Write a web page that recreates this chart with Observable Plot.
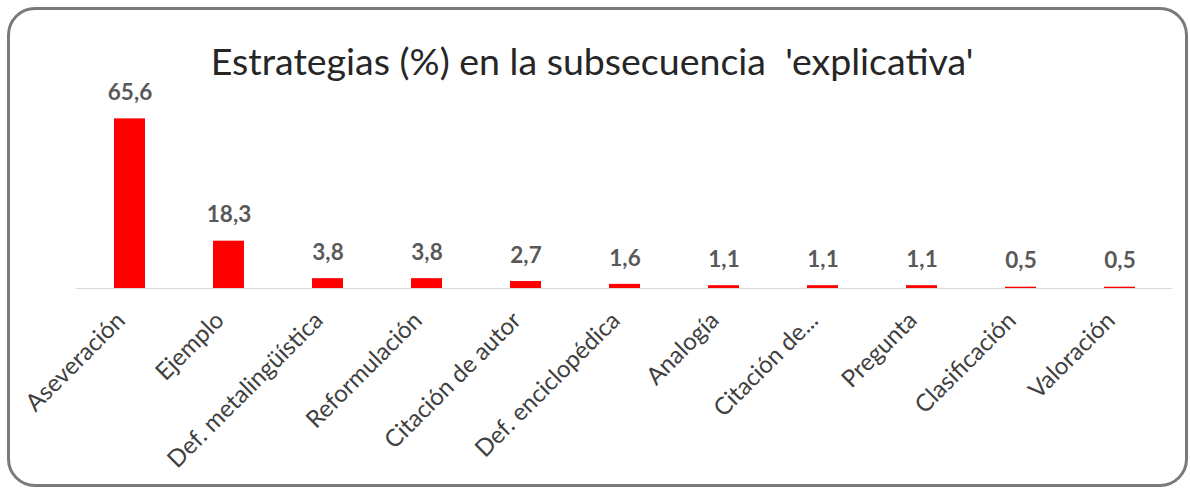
<!DOCTYPE html>
<html><head><meta charset="utf-8">
<script src="https://cdn.jsdelivr.net/npm/d3@7"></script>
<script src="https://cdn.jsdelivr.net/npm/@observablehq/plot@0.6"></script>
<style>
body{margin:0;background:#fff;}
#wrap{position:relative;width:1190px;height:491px;overflow:hidden;background:#fff;font-family:Lato,sans-serif;}
#frame{position:absolute;left:7px;top:7px;width:1181px;height:480px;border:3px solid #7a7a7a;border-radius:28px;box-sizing:border-box;}
#title{position:absolute;left:0;width:1184px;top:42px;text-align:center;font-size:37.5px;color:#262626;white-space:pre;line-height:1;}
#chart{position:absolute;left:0;top:0;}
</style></head><body>
<div id="wrap"><div id="frame"></div><div id="title"></div><div id="chart"></div></div>
<script>
const titleText = "Estrategias (%) en la subsecuencia  'explicativa'";
const categories = ["Aseveración","Ejemplo","Def. metalingüística","Reformulación","Citación de autor","Def. enciclopédica","Analogía","Citación de...","Pregunta","Clasificación","Valoración"];
const values = [65.6,18.3,3.8,3.8,2.7,1.6,1.1,1.1,1.1,0.5,0.5];

document.getElementById("title").textContent = titleText;
const data = categories.map((c,i)=>({cat:c,value:values[i]}));
const fmt = v => d3.format(".1f")(v).replace(".", ",");

const chart = Plot.plot({
  width:1190, height:491,
  marginLeft:76, marginRight:18, marginTop:107, marginBottom:203,
  x:{domain:categories, paddingInner:0.69, paddingOuter:0.345, label:null},
  y:{domain:[0,70], axis:null},
  style:{fontFamily:"Lato, sans-serif", background:"transparent", color:"#404040"},
  marks:[
    Plot.barY(data,{x:"cat", y:"value", fill:"#ff0000"}),
    Plot.ruleY([0],{stroke:"#d9d9d9", strokeWidth:1.2}),
    Plot.text(data,{x:"cat", y:"value", text:d=>fmt(d.value), dy:-26, fontSize:22.5, fontWeight:"bold", fill:"#595959"}),
    Plot.axisX({tickRotate:-45, tickSize:0, tickPadding:28, dx:-9, fontSize:24, fill:"#404040", label:null})
  ]
});
document.getElementById("chart").appendChild(chart);
</script>
</body></html>
